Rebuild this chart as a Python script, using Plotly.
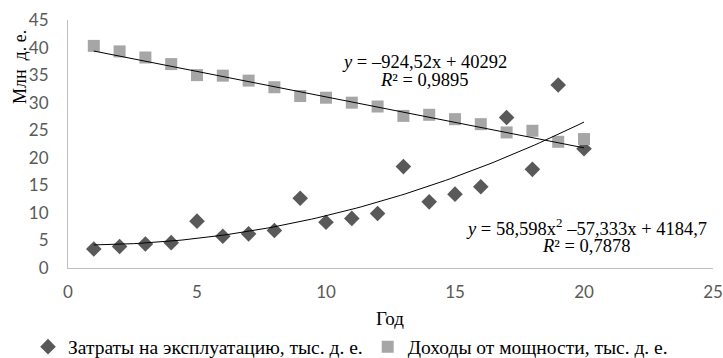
import numpy as np
import plotly.graph_objects as go

years = list(range(1, 21))
costs = [3.45, 3.9, 4.35, 4.6, 8.5, 5.75, 6.2, 6.8, 12.65, 8.3,
         9.0, 9.9, 18.4, 12.0, 13.4, 14.75, 27.3, 17.9, 33.2, 21.65]
income = [40.3, 39.3, 38.2, 37.0, 35.0, 34.9, 34.0, 32.8, 31.2, 30.9,
          30.0, 29.3, 27.6, 27.8, 27.0, 26.1, 24.6, 24.9, 22.9, 23.4]

# trendline coefficients as printed on the chart (values in thousands)
lin_coef = [-924.52, 40292]
poly_coef = [58.598, -57.333, 4184.7]

series_names = ["Затраты на эксплуатацию, тыс. д. е.", "Доходы от мощности, тыс. д. е."]
eq1 = ["<i>y</i> = –924,52x + 40292", "<i>R</i>² = 0,9895"]
eq2 = ["<i>y</i> = 58,598x<sup>2</sup> –57,333x + 4184,7", "<i>R</i>² = 0,7878"]

xs = np.linspace(min(years), max(years), 100)
lin_y = np.polyval(lin_coef, xs) / 1000
poly_y = np.polyval(poly_coef, xs) / 1000

W, H = 723, 358
L, T, PW, PH = 68, 20, 645, 248

serif = "Times New Roman, Liberation Serif, DejaVu Serif, serif"
fig = go.Figure()
fig.add_trace(go.Scatter(x=years, y=costs, mode="markers", name=series_names[0],
                         marker=dict(symbol="diamond", size=12, color="#595959")))
fig.add_trace(go.Scatter(x=years, y=income, mode="markers", name=series_names[1],
                         marker=dict(symbol="square", size=12, color="#A6A6A6")))
fig.add_trace(go.Scatter(x=xs, y=lin_y, mode="lines", showlegend=False,
                         line=dict(color="black", width=1), hoverinfo="skip"))
fig.add_trace(go.Scatter(x=xs, y=poly_y, mode="lines", showlegend=False,
                         line=dict(color="black", width=1), hoverinfo="skip"))

axis_common = dict(showgrid=False, zeroline=False, showline=True, linecolor="#BFBFBF",
                   linewidth=1, ticks="", automargin=False,
                   tickfont=dict(family="Lato", size=17, color="#595959"))
fig.update_xaxes(range=[0, 25], dtick=5, ticklabelstandoff=9, **axis_common)
fig.update_yaxes(range=[0, 45], dtick=5, ticklabelstandoff=15, **axis_common)

ann_font = dict(family=serif, size=18.5, color="black")

def px_x(p):
    return (p - L) / PW

def px_y(p):
    return (T + PH - p) / PH

fig.add_annotation(x=px_x(424), y=px_y(62), xref="paper", yref="paper", text=eq1[0],
                   showarrow=False, font=ann_font, xanchor="center", yanchor="middle")
fig.add_annotation(x=px_x(424), y=px_y(80), xref="paper", yref="paper", text=eq1[1],
                   showarrow=False, font=ann_font, xanchor="center", yanchor="middle")
fig.add_annotation(x=px_x(586), y=px_y(227), xref="paper", yref="paper", text=eq2[0],
                   showarrow=False, font=ann_font, xanchor="center", yanchor="middle")
fig.add_annotation(x=px_x(586), y=px_y(246), xref="paper", yref="paper", text=eq2[1],
                   showarrow=False, font=ann_font, xanchor="center", yanchor="middle")
fig.add_annotation(x=px_x(20), y=px_y(67), xref="paper", yref="paper", text="Млн  д. е.",
                   textangle=-90, showarrow=False, font=dict(family=serif, size=18, color="black"),
                   xanchor="center", yanchor="middle")
fig.add_annotation(x=px_x(390), y=px_y(318), xref="paper", yref="paper", text="Год",
                   showarrow=False, font=dict(family=serif, size=19, color="black"),
                   xanchor="center", yanchor="middle")

fig.update_layout(
    width=W, height=H,
    margin=dict(l=L, r=W - L - PW, t=T, b=H - T - PH, autoexpand=False),
    plot_bgcolor="white", paper_bgcolor="white",
    legend=dict(orientation="h", xref="container", yref="container",
                x=28 / W, y=(H - 347) / H, xanchor="left", yanchor="middle",
                font=dict(family=serif, size=19.5, color="black"), itemwidth=30,
                tracegroupgap=0, bgcolor="rgba(0,0,0,0)"),
)
fig.write_html("out.html", config={"displayModeBar": False},
               post_script="document.body.style.margin='0';document.body.style.overflow='hidden';")
